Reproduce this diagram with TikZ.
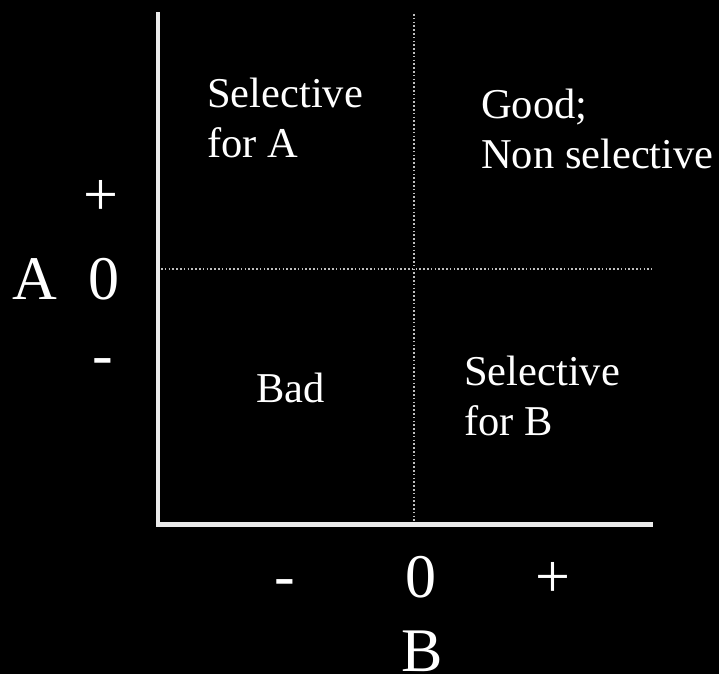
\documentclass[tikz,border=0pt]{standalone}
\usepackage{fontspec}
\setmainfont{Liberation Serif}
\begin{document}
\begin{tikzpicture}[x=1pt,y=-1pt,
  axisline/.style={draw=white!92!black,line width=4.5pt},
  gridline/.style={draw=white!75!black,line width=1.6pt,dash pattern=on 1.6pt off 2.2pt},
  region/.style={text=white,inner sep=0pt,anchor=base west,align=left,font=\fontsize{42.5}{50}\selectfont},
  bigl/.style={text=white,inner sep=0pt,anchor=base west,font=\fontsize{62}{70}\selectfont}]
\fill[black] (0,0) rectangle (719,674);
\useasboundingbox (0,0) rectangle (719,674);
% axes
\coordinate (top) at (158,12.5);
\coordinate (origin) at (158,524.5);
\coordinate (right) at (653,524.5);
\coordinate (vtop) at (414,14);
\coordinate (vbot) at (414,522);
\coordinate (hleft) at (161,269);
\coordinate (hright) at (652,269);
\draw[gridline] (vtop) -- (vbot);
\draw[gridline] (hleft) -- (hright);
\draw[axisline] (top) -- ([yshift=2pt]origin);
\draw[axisline] ([xshift=-2pt]origin) -- (right);
% region labels (anchor is the baseline of the last line)
\node[region] (selA) at (207,157) {Selective\\for A};
\node[region] (good) at (481,168) {Good;\\Non selective};
\node[region] (bad) at (256,402) {Bad};
\node[region] (selB) at (464,435) {Selective\\for B};
% axis labels A
\node[bigl] (Aplus) at (83,215) {+};
\node[bigl] (Alab) at (12,299) {A};
\node[bigl] (Azero) at (88.5,299) {0};
\node[bigl] (Aminus) at (92,375) {-};
% axis labels B
\node[bigl] (Bminus) at (274,596) {-};
\node[bigl] (Bzero) at (405.5,597) {0};
\node[bigl] (Bplus) at (535,597) {+};
\node[bigl] (Blab) at (401,671) {B};
\end{tikzpicture}
\end{document}
